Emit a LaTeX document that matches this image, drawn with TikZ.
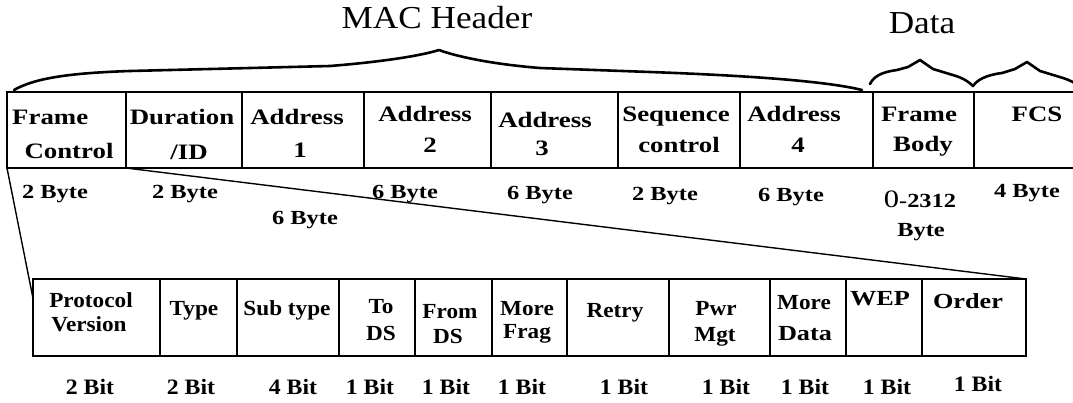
\documentclass[tikz,border=0pt]{standalone}
\usepackage{fontspec}
\setmainfont{Liberation Serif}
\newfontfamily\widefont{Liberation Serif}[FakeStretch=1.22]
\newfontfamily\narrowfont{Liberation Serif}[FakeStretch=1.08]
\newfontfamily\headfont{Liberation Serif}[FakeStretch=1.1]
\usetikzlibrary{calc}

\begin{document}
\begin{tikzpicture}[x=1pt,y=-1pt,
  topcell/.style={draw, line width=1.8pt, inner sep=0pt, outer sep=0pt,
    anchor=north west, minimum height=76pt},
  botcell/.style={draw, line width=1.8pt, inner sep=0pt, outer sep=0pt,
    anchor=north west, minimum height=77pt},
  headtxt/.style={font=\headfont\fontsize{32}{34}\selectfont, inner sep=0pt, anchor=base},
  toptxt/.style={font=\widefont\bfseries\fontsize{22}{24}\selectfont, inner sep=0pt, anchor=base},
  bytetxt/.style={font=\widefont\bfseries\fontsize{20}{22}\selectfont, inner sep=0pt, anchor=base},
  bottxt/.style={font=\narrowfont\bfseries\fontsize{21.5}{23}\selectfont, inner sep=0pt, anchor=base},
  bigtxt/.style={font=\widefont\bfseries\fontsize{21.5}{23}\selectfont, inner sep=0pt, anchor=base},
  bittxt/.style={font=\narrowfont\bfseries\fontsize{22}{24}\selectfont, inner sep=0pt, anchor=base},
  brace/.style={line width=2.6pt, line join=round, line cap=round},
  link/.style={line width=1.4pt}]

\useasboundingbox (0,0) rectangle (1073,402);
\fill[white] (0,0) rectangle (1073,402);
\clip (0,0) rectangle (1073,402);

% ---- titles ----
\node[headtxt] (machead) at (437,28) {MAC Header};
\node[headtxt] (datahead) at (922,33) {Data};

% ---- braces ----
\draw[brace] (14,90) .. controls (35,78) and (70,73) .. (130,71) -- (330,66)
  .. controls (380,62) and (420,56) .. (439,50)
  .. controls (455,56) and (490,64) .. (540,68) -- (650,72)
  .. controls (760,76) and (830,82) .. (862,90);
\draw[brace] (870,84) .. controls (874,76) and (882,72) .. (897,70) -- (908,67)
  -- (920,60) -- (933,69) -- (956,76) .. controls (965,79) and (970,83) .. (973,86)
  .. controls (977,80) and (986,75) .. (1002,73) -- (1015,69)
  -- (1027,62) -- (1040,71) -- (1063,78) .. controls (1072,81) and (1077,84) .. (1080,88);

% ---- MAC frame fields ----
\node[topcell, minimum width=119pt] (fc)  at (7,92)   {};
\node[topcell, minimum width=116pt] (dur) at (126,92) {};
\node[topcell, minimum width=122pt] (a1)  at (242,92) {};
\node[topcell, minimum width=127pt] (a2)  at (364,92) {};
\node[topcell, minimum width=127pt] (a3)  at (491,92) {};
\node[topcell, minimum width=122pt] (seq) at (618,92) {};
\node[topcell, minimum width=133pt] (a4)  at (740,92) {};
\node[topcell, minimum width=101pt] (fb)  at (873,92) {};
\node[topcell, minimum width=140pt] (fcs) at (974,92) {};

\node[toptxt, anchor=base west] (fcA) at (12,124) {Frame};
\node[toptxt] (fcB) at (69,158) {Control};
\node[toptxt] (durA) at (182,124) {Duration};
\node[toptxt] (durB) at (189,159) {/ID};
\node[toptxt] (a1A) at (297,124) {Address};
\node[toptxt] (a1B) at (300,157) {1};
\node[toptxt] (a2A) at (425,121) {Address};
\node[toptxt] (a2B) at (430,152) {2};
\node[toptxt] (a3A) at (545,127) {Address};
\node[toptxt] (a3B) at (542,155) {3};
\node[toptxt] (seqA) at (676,121) {Sequence};
\node[toptxt] (seqB) at (679,152) {control};
\node[toptxt] (a4A) at (794,121) {Address};
\node[toptxt] (a4B) at (798,152) {4};
\node[toptxt] (fbA) at (919,121) {Frame};
\node[toptxt] (fbB) at (923,151) {Body};
\node[toptxt] (fcsA) at (1037,121) {FCS};

% ---- field sizes ----
\node[bytetxt] (s1) at (55,198)  {2 Byte};
\node[bytetxt] (s2) at (185,198) {2 Byte};
\node[bytetxt] (s3) at (305,224) {6 Byte};
\node[bytetxt] (s4) at (405,198) {6 Byte};
\node[bytetxt] (s5) at (540,199) {6 Byte};
\node[bytetxt] (s6) at (665,200) {2 Byte};
\node[bytetxt] (s7) at (791,201) {6 Byte};
\node[bytetxt] (s8) at (920,207) {{\fontsize{25}{25}\selectfont\mdseries 0}-2312};
\node[bytetxt] (s8b) at (921,236) {Byte};
\node[bytetxt] (s9) at (1027,197) {4 Byte};

% ---- frame control subfields ----
\node[botcell, minimum width=127pt] (pv)  at (33,279)  {};
\node[botcell, minimum width=77pt]  (ty)  at (160,279) {};
\node[botcell, minimum width=102pt] (st)  at (237,279) {};
\node[botcell, minimum width=76pt]  (tds) at (339,279) {};
\node[botcell, minimum width=77pt]  (fds) at (415,279) {};
\node[botcell, minimum width=75pt]  (mf)  at (492,279) {};
\node[botcell, minimum width=102pt] (rt)  at (567,279) {};
\node[botcell, minimum width=101pt] (pm)  at (669,279) {};
\node[botcell, minimum width=76pt]  (md)  at (770,279) {};
\node[botcell, minimum width=76pt]  (wep) at (846,279) {};
\node[botcell, minimum width=104pt] (ord) at (922,279) {};

\node[bottxt] (pvA) at (91,307) {Protocol};
\node[bottxt] (pvB) at (89,331) {Version};
\node[bottxt] (tyA) at (194,315) {Type};
\node[bottxt] (stA) at (287,315) {Sub type};
\node[bottxt] (tdsA) at (381,313) {To};
\node[bottxt] (tdsB) at (381,340) {DS};
\node[bottxt] (fdsA) at (450,318) {From};
\node[bottxt] (fdsB) at (448,343) {DS};
\node[bottxt] (mfA) at (527,315) {More};
\node[bottxt] (mfB) at (527,338) {Frag};
\node[bottxt] (rtA) at (615,317) {Retry};
\node[bottxt] (pmA) at (716,315) {Pwr};
\node[bottxt] (pmB) at (715,341) {Mgt};
\node[bottxt] (mdA) at (804,309) {More};
\node[bigtxt] (mdB) at (805,340) {Data};
\node[bigtxt] (wepA) at (880,305) {WEP};
\node[bigtxt] (ordA) at (968,308) {Order};

\node[bittxt] (b1)  at (90,394)  {2 Bit};
\node[bittxt] (b2)  at (191,394) {2 Bit};
\node[bittxt] (b3)  at (293,394) {4 Bit};
\node[bittxt] (b4)  at (370,394) {1 Bit};
\node[bittxt] (b5)  at (446,394) {1 Bit};
\node[bittxt] (b6)  at (522,394) {1 Bit};
\node[bittxt] (b7)  at (624,394) {1 Bit};
\node[bittxt] (b8)  at (726,394) {1 Bit};
\node[bittxt] (b9)  at (805,394) {1 Bit};
\node[bittxt] (b10) at (887,394) {1 Bit};
\node[bittxt] (b11) at (978,391) {1 Bit};

% ---- expansion lines from Frame Control ----
\coordinate (pvleft) at ($(pv.north west)!0.25!(pv.south west)$);
\draw[link] (fc.south west) -- (pvleft);
\draw[link] (fc.south east) -- (ord.north east);

\end{tikzpicture}
\end{document}
